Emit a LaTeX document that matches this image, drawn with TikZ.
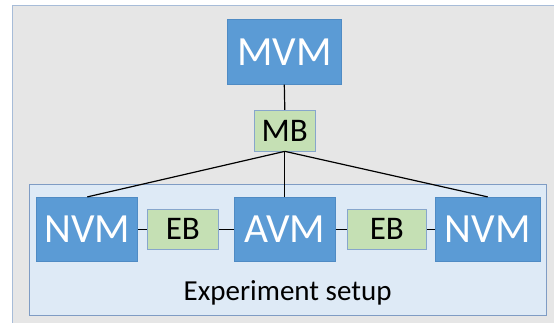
\documentclass[tikz,border=0pt]{standalone}
\usepackage{fontspec}
\setmainfont{Carlito}
\definecolor{bgray}{HTML}{E6E6E6}
\definecolor{bgrayline}{HTML}{A7BCD8}
\definecolor{setupfill}{HTML}{DEEAF6}
\definecolor{setupline}{HTML}{7F9CC4}
\definecolor{vmblue}{HTML}{5B9BD5}
\definecolor{vmline}{HTML}{4F8BC4}
\definecolor{bfill}{HTML}{C5E0B4}
\definecolor{bline}{HTML}{87A6CC}
\tikzset{
  vmbox/.style={fill=vmblue, draw=vmline, line width=0.8pt, text=white, inner sep=0pt,
    font=\fontsize{41.5}{41.5}\selectfont},
  bbox/.style={fill=bfill, draw=bline, line width=0.8pt, text=black, inner sep=0pt,
    font=\fontsize{33}{33}\selectfont},
  conn/.style={draw=black, line width=1.2pt}
}
\begin{document}
\begin{tikzpicture}[x=1pt,y=-1pt]
\useasboundingbox (0,0) rectangle (554,322);
\begin{scope}
\clip (0,0) rectangle (554,322);
\draw[fill=bgray, draw=bgrayline, line width=1pt] (12.4,5.7) rectangle (570,340);
\end{scope}
\draw[fill=setupfill, draw=setupline, line width=0.8pt] (29.3,184.3) rectangle (546.5,315);
\node[anchor=base, font=\fontsize{29}{29}\selectfont] (label) at (287.6,300) {Experiment setup};
\node[vmbox, minimum width=114.8pt, minimum height=65pt] (mvm) at (284.3,51.8) {MVM};
\node[bbox, minimum width=60.8pt, minimum height=40.7pt] (mb) at (284.8,130.6) {MB};
\node[vmbox, minimum width=101.1pt, minimum height=64pt] (nvm1) at (87.3,229.3) {NVM};
\node[bbox, minimum width=71.1pt, minimum height=40pt] (eb1) at (182.9,229.3) {EB};
\node[vmbox, minimum width=101pt, minimum height=64pt] (avm) at (284.8,229.3) {AVM};
\node[bbox, minimum width=79.2pt, minimum height=40pt] (eb2) at (386.9,229.3) {EB};
\node[vmbox, minimum width=105.3pt, minimum height=64pt] (nvm2) at (487.7,229.3) {NVM};
\draw[conn] (mvm.south) -- (mb.north);
\draw[conn] (mb.south) -- (nvm1.north);
\draw[conn] (mb.south) -- (avm.north);
\draw[conn] (mb.south) -- (nvm2.north);
\draw[conn] (nvm1.east) -- (eb1.west);
\draw[conn] (eb1.east) -- (avm.west);
\draw[conn] (avm.east) -- (eb2.west);
\draw[conn] (eb2.east) -- (nvm2.west);
\end{tikzpicture}
\end{document}
